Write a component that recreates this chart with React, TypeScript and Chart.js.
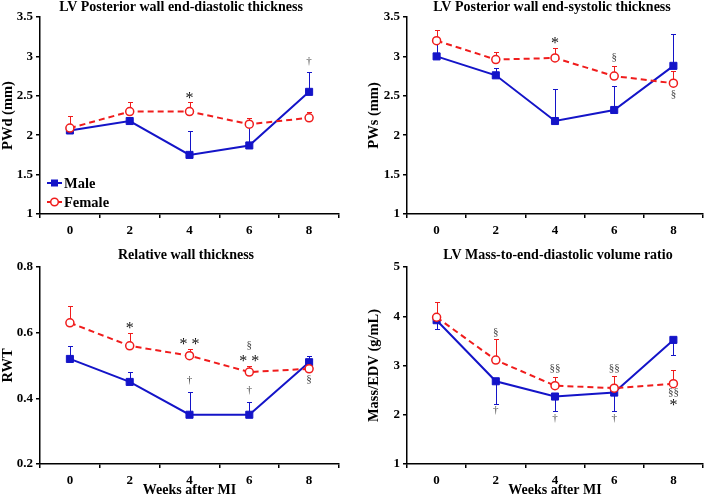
import React, { useEffect, useRef } from 'react';
import { Chart, registerables } from 'chart.js';

Chart.register(...registerables);

const SERIF = '"Liberation Serif", "Times New Roman", serif';
const MALE = '#1414c8';
const FEMALE = '#f01c1c';

const weeks = ['0', '2', '4', '6', '8'];

// LV posterior wall end-diastolic thickness (mm)
const pwdMale = [2.06, 2.18, 1.75, 1.87, 2.55];
const pwdMaleErr = [null, null, 2.05, 2.1, 2.8];
const pwdFemale = [2.09, 2.3, 2.3, 2.14, 2.22];
const pwdFemaleErr = [2.24, 2.42, 2.42, 2.22, 2.3];
const pwdMarks: [number, number, string][] = [[2, 2.51, '*'], [4, 2.93, '†']];

// LV posterior wall end-systolic thickness (mm)
const pwsMale = [3.0, 2.76, 2.18, 2.32, 2.88];
const pwsMaleErr = [3.17, 2.85, 2.58, 2.62, 3.28];
const pwsFemale = [3.2, 2.96, 2.98, 2.75, 2.66];
const pwsFemaleErr = [3.33, 3.05, 3.11, 2.88, 2.81];
const pwsMarks: [number, number, string][] = [[2, 3.2, '*'], [3, 2.98, '§'], [4, 2.52, '§']];

// Relative wall thickness
const rwtMale = [0.52, 0.45, 0.35, 0.35, 0.51];
const rwtMaleErr = [0.56, 0.48, 0.42, 0.39, 0.53];
const rwtFemale = [0.63, 0.56, 0.53, 0.48, 0.49];
const rwtFemaleErr = [0.68, 0.6, 0.55, 0.5, null];
const rwtMarks: [number, number, string][] = [
  [1, 0.623, '*'], [2, 0.572, '* *'], [3, 0.561, '§'], [3, 0.522, '* *'],
  [4, 0.458, '§'], [2, 0.453, '†'], [3, 0.424, '†'],
];

// LV mass-to-end-diastolic volume ratio (g/mL)
const medvMale = [3.92, 2.68, 2.37, 2.45, 3.52];
const medvMaleErr = [3.74, 2.22, 2.08, 2.07, 3.21];
const medvFemale = [3.98, 3.11, 2.59, 2.54, 2.63];
const medvFemaleErr = [4.29, 3.53, 2.77, 2.79, 2.91];
const medvMarks: [number, number, string][] = [
  [1, 3.66, '§'], [2, 2.93, '§§'], [3, 2.94, '§§'], [4, 2.46, '§§'], [4, 2.25, '*'],
  [1, 2.08, '†'], [2, 1.92, '†'], [3, 1.92, '†'],
];

const seriesLabels = ['Male', 'Female'];

type PanelCfg = {
  title: string;
  yTitle: string;
  male: number[];
  maleErr: (number | null)[];
  female: number[];
  femaleErr: (number | null)[];
  marks: [number, number, string][];
  yMin: number;
  yMax: number;
  yStep: number;
  legend: boolean;
  xTitle: boolean;
  left: number;
  top: number;
  w: number;
  h: number;
  padLeft: number;
  padTop: number;
  padRight: number;
  yW: number;
  xH: number;
  titleX: number;
  titleY: number;
};

const panels: PanelCfg[] = [
  {
    title: 'LV Posterior wall end-diastolic thickness', yTitle: 'PWd (mm)',
    male: pwdMale, maleErr: pwdMaleErr, female: pwdFemale, femaleErr: pwdFemaleErr, marks: pwdMarks,
    yMin: 1, yMax: 3.5, yStep: 0.5, legend: true, xTitle: false,
    left: 0, top: 0, w: 354, h: 245, padLeft: 0, padTop: 17, padRight: 15, yW: 40, xH: 31, titleX: 181, titleY: 10.5,
  },
  {
    title: 'LV Posterior wall end-systolic thickness', yTitle: 'PWs (mm)',
    male: pwsMale, maleErr: pwsMaleErr, female: pwsFemale, femaleErr: pwsFemaleErr, marks: pwsMarks,
    yMin: 1, yMax: 3.5, yStep: 0.5, legend: false, xTitle: false,
    left: 355, top: 0, w: 354, h: 245, padLeft: 11, padTop: 17, padRight: 1, yW: 41, xH: 31, titleX: 197, titleY: 10.5,
  },
  {
    title: 'Relative wall thickness', yTitle: 'RWT',
    male: rwtMale, maleErr: rwtMaleErr, female: rwtFemale, femaleErr: rwtFemaleErr, marks: rwtMarks,
    yMin: 0.2, yMax: 0.8, yStep: 0.2, legend: false, xTitle: true,
    left: 0, top: 245, w: 354, h: 252, padLeft: 0, padTop: 22, padRight: 15, yW: 40, xH: 33, titleX: 186, titleY: 13.5,
  },
  {
    title: 'LV Mass-to-end-diastolic volume ratio', yTitle: 'Mass/EDV (g/mL)',
    male: medvMale, maleErr: medvMaleErr, female: medvFemale, femaleErr: medvFemaleErr, marks: medvMarks,
    yMin: 1, yMax: 5, yStep: 1, legend: false, xTitle: true,
    left: 355, top: 245, w: 354, h: 252, padLeft: 11, padTop: 22, padRight: 1, yW: 41, xH: 33, titleX: 203, titleY: 13.5,
  },
];

function makePlugin(p: PanelCfg) {
  return {
    id: 'extras',
    beforeDatasetsDraw(chart: any) {
      const { ctx } = chart;
      const xs = chart.scales.x;
      const ys = chart.scales.y;
      const sets: [number[], (number | null)[], string][] = [
        [p.male, p.maleErr, MALE],
        [p.female, p.femaleErr, FEMALE],
      ];
      ctx.save();
      ctx.lineWidth = 1;
      sets.forEach(([vals, ends, color]) => {
        ctx.strokeStyle = color;
        ends.forEach((e, i) => {
          if (e == null) return;
          const px = Math.round(xs.getPixelForValue(i)) + 0.5;
          const y0 = ys.getPixelForValue(vals[i]);
          const y1 = Math.round(ys.getPixelForValue(e)) + 0.5;
          ctx.beginPath();
          ctx.moveTo(px, y0);
          ctx.lineTo(px, y1);
          ctx.moveTo(px - 2.5, y1);
          ctx.lineTo(px + 2.5, y1);
          ctx.stroke();
        });
      });
      ctx.restore();
    },
    afterDraw(chart: any) {
      const { ctx, chartArea } = chart;
      const xs = chart.scales.x;
      const ys = chart.scales.y;
      ctx.save();
      p.marks.forEach(([i, v, t]) => {
        const isStar = t.indexOf('*') >= 0;
        ctx.font = isStar ? `16px ${SERIF}` : `11px ${SERIF}`;
        ctx.fillStyle = isStar ? '#111' : '#444';
        ctx.textAlign = 'center';
        ctx.textBaseline = 'alphabetic';
        const m = ctx.measureText(t);
        const px = xs.getPixelForValue(i);
        const py = ys.getPixelForValue(v);
        const off = (m.actualBoundingBoxAscent - m.actualBoundingBoxDescent) / 2;
        ctx.fillText(t, px, py + off);
      });
      ctx.font = `bold 14px ${SERIF}`;
      ctx.fillStyle = '#000';
      ctx.textAlign = 'center';
      ctx.textBaseline = 'alphabetic';
      ctx.fillText(p.title, p.titleX, p.titleY);
      if (p.legend) {
        const lx = chartArea.left + 7;
        const rows: [number, string][] = [
          [chartArea.bottom - 31, MALE],
          [chartArea.bottom - 12, FEMALE],
        ];
        rows.forEach(([ly, color], k) => {
          ctx.strokeStyle = color;
          ctx.lineWidth = 2;
          ctx.setLineDash([]);
          ctx.beginPath();
          ctx.moveTo(lx, ly);
          ctx.lineTo(lx + 15, ly);
          ctx.stroke();
          const cx = lx + 7.5;
          if (k === 0) {
            ctx.fillStyle = color;
            ctx.fillRect(cx - 3.5, ly - 3.5, 7, 7);
          } else {
            ctx.beginPath();
            ctx.arc(cx, ly, 3.8, 0, Math.PI * 2);
            ctx.fillStyle = '#fff';
            ctx.fill();
            ctx.lineWidth = 1.5;
            ctx.stroke();
          }
          ctx.font = `bold 14.5px ${SERIF}`;
          ctx.fillStyle = '#000';
          ctx.textAlign = 'left';
          ctx.textBaseline = 'middle';
          ctx.fillText(seriesLabels[k], lx + 17, ly + 1);
        });
      }
      ctx.restore();
    },
  };
}

function Panel({ p }: { p: PanelCfg }) {
  const ref = useRef<HTMLCanvasElement | null>(null);
  useEffect(() => {
    if (!ref.current) return;
    const tickFont = { family: SERIF, size: 13, weight: 'bold' as const };
    const chart = new Chart(ref.current, {
      type: 'line',
      data: {
        labels: weeks,
        datasets: [
          {
            label: seriesLabels[0],
            data: p.male,
            borderColor: MALE,
            backgroundColor: MALE,
            borderWidth: 2,
            pointStyle: 'rect',
            pointRadius: 5,
            pointBorderWidth: 1,
            pointBackgroundColor: MALE,
            pointBorderColor: MALE,
            order: 1,
            clip: false as any,
          },
          {
            label: seriesLabels[1],
            data: p.female,
            borderColor: FEMALE,
            backgroundColor: '#fff',
            borderWidth: 2,
            borderDash: [6, 4],
            pointStyle: 'circle',
            pointRadius: 4,
            pointBorderWidth: 1.5,
            pointBackgroundColor: '#fff',
            pointBorderColor: FEMALE,
            order: 0,
            clip: false as any,
          },
        ],
      },
      options: {
        responsive: false,
        animation: false,
        events: [],
        layout: { padding: { left: p.padLeft, top: p.padTop, right: p.padRight, bottom: 0 } },
        plugins: {
          legend: { display: false },
          tooltip: { enabled: false },
          title: { display: false },
        },
        scales: {
          x: {
            type: 'category',
            offset: true,
            grid: {
              offset: true,
              drawOnChartArea: false,
              drawTicks: true,
              tickLength: 4,
              color: '#000',
              lineWidth: 1.5,
            },
            border: { display: true, color: '#000', width: 1.5 },
            ticks: { font: tickFont, color: '#000', padding: 5, maxRotation: 0, autoSkip: false },
            title: {
              display: p.xTitle,
              text: 'Weeks after MI',
              color: '#000',
              font: { family: SERIF, size: 14, weight: 'bold', lineHeight: 1 },
              padding: 0,
            },
            afterFit: (s: any) => {
              s.height = p.xH;
            },
          },
          y: {
            type: 'linear',
            min: p.yMin,
            max: p.yMax,
            grid: {
              drawOnChartArea: false,
              drawTicks: true,
              tickLength: 4,
              color: '#000',
              lineWidth: 1.5,
            },
            border: { display: true, color: '#000', width: 1.5 },
            ticks: {
              stepSize: p.yStep,
              font: tickFont,
              color: '#000',
              padding: 3,
              callback: (v: any) => String(Math.round(Number(v) * 100) / 100),
            },
            title: {
              display: true,
              text: p.yTitle,
              color: '#000',
              font: { family: SERIF, size: 14.5, weight: 'bold', lineHeight: 1.2 },
              padding: 0,
            },
            afterFit: (s: any) => {
              s.width = p.yW;
            },
          },
        },
      } as any,
      plugins: [makePlugin(p)],
    });
    return () => chart.destroy();
  }, [p]);
  return (
    <div style={{ position: 'absolute', left: p.left, top: p.top, width: p.w, height: p.h }}>
      <canvas ref={ref} width={p.w} height={p.h} style={{ width: p.w, height: p.h, display: 'block' }} />
    </div>
  );
}

export default function App() {
  return (
    <div style={{ position: 'absolute', left: 0, top: 0, width: 709, height: 497, background: '#fff', overflow: 'hidden' }}>
      {panels.map((p, i) => (
        <Panel key={i} p={p} />
      ))}
    </div>
  );
}
